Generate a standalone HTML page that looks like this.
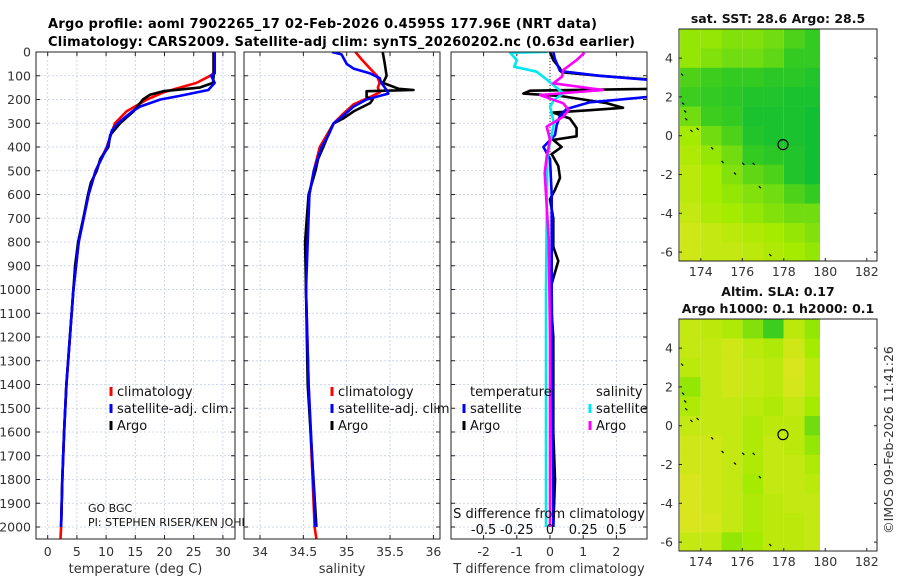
<!DOCTYPE html>
<html><head><meta charset="utf-8"><style>
html,body{margin:0;padding:0;background:#fff;}
svg{display:block;font-family:"DejaVu Sans","Liberation Sans",sans-serif;}
</style></head><body>
<svg id="fig" width="900" height="580" viewBox="0 0 900 580">
<text x="48" y="28" font-size="13" font-weight="bold" textLength="549">Argo profile: aoml 7902265_17 02-Feb-2026 0.4595S 177.96E (NRT data)</text>
<text x="48" y="46" font-size="13" font-weight="bold" textLength="587">Climatology: CARS2009. Satellite-adj clim: synTS_20260202.nc (0.63d earlier)</text>
<g id="layer"></g>
</svg>
<script>
// ---------- data ----------
const depthTicks=[0,100,200,300,400,500,600,700,800,900,1000,1100,1200,1300,1400,1500,1600,1700,1800,1900,2000];
const tempTicks=[0,5,10,15,20,25,30];
const salTicks=[34,34.5,35,35.5,36];
const tdiffTicks=[-2,-1,0,1,2];
const sdiffTicks=[-0.5,-0.25,0,0.25,0.5];
const sdiffTickLabels=["-0.5","-0.25","0","0.25","0.5"];

const tClimDepth=[0,90,100,130,150,170,200,250,300,400,500,600,800,1000,1200,1400,1600,1800,2000,2050];
const tClimVal=[28.4,28.4,27.8,25.5,22.6,19.8,17,13.5,11.5,10.1,8.2,7,5.3,4.4,3.8,3.2,2.8,2.5,2.3,2.2];
const tSatDepth=[0,90,100,130,160,185,200,230,250,300,330,400,500,600,800,1000,1200,1400,1600,1800,2000];
const tSatVal=[28.6,28.6,28,28.6,27.5,22.6,19.3,15.8,14.5,12,11,10.2,8.2,7,5.3,4.4,3.8,3.2,2.8,2.5,2.3];
const tArgoDepth=[0,100,130,150,165,180,200,250,300,350,400,450,500,550,600,700,800,900,1000,1200,1400,1600,1800,2000];
const tArgoVal=[28.4,28.4,28.3,26,19.8,17.5,16.3,14.7,12.4,10.7,10.4,9,8.4,7.4,6.9,6.1,5.2,4.7,4.4,3.8,3.2,2.8,2.5,2.3];

const sClimDepth=[0,30,70,100,130,150,170,190,220,260,300,400,500,600,800,1000,1400,2000,2050];
const sClimVal=[35.1,35.17,35.27,35.35,35.38,35.36,35.38,35.27,35.08,34.96,34.85,34.69,34.62,34.57,34.53,34.53,34.56,34.63,34.65];
const sSatDepth=[0,10,50,70,90,110,130,160,175,200,230,280,300,350,400,500,600,1000,1400,2000];
const sSatVal=[34.83,34.94,35.0,35.08,35.27,35.38,35.4,35.46,35.48,35.23,35.08,34.92,34.85,34.79,34.71,34.62,34.57,34.53,34.56,34.64];
const sArgoDepth=[0,50,100,130,155,160,165,190,200,215,250,280,300,330,400,450,500,600,700,800,1000,1400,2000];
const sArgoVal=[35.415,35.44,35.46,35.42,35.6,35.77,35.23,35.23,35.3,35.27,35.08,34.96,34.85,34.81,34.73,34.67,34.64,34.56,34.54,34.52,34.53,34.55,34.65];

const dTSatDepth=[0,30,80,100,120,185,190,212,240,268,310,350,400,450,600,1000,1500,2000];
const dTSatVal=[0.1,0.15,0.3,1.5,3.2,3.2,2.9,1.2,0.5,0.3,0.2,0.15,-0.2,0,0.05,0.05,0.08,0.1];
const dTArgoDepth=[0,34,69,85,100,118,155,163,175,185,200,215,235,245,255,280,320,355,370,400,430,480,530,580,620,700,820,880,1000,1200,1400,1600,1800,2000];
const dTArgoVal=[0,0.1,0.3,0.35,1.5,3.2,3.2,-0.6,-0.8,0.3,1.0,1.7,2.2,1.2,0.1,0.6,0.8,0.8,0.1,0.35,0.05,0.25,0.3,0.15,0,0.1,0.1,0.25,0,0.1,0.1,0.1,0.15,0.1];
const dSSatDepth=[0,3,34,62,83,118,174,202,230,300,440,1000,2000];
const dSSatVal=[-0.02,-0.3,-0.25,-0.27,-0.1,-0.02,0.1,0.03,0,0.03,-0.02,-0.03,-0.03];
const dSArgoDepth=[3,34,76,104,132,160,181,216,244,272,314,370,440,510,790,1200,2000];
const dSArgoVal=[0.26,0.2,0.1,0.09,0.025,0.4,-0.075,0.1,0.14,0.1,-0.025,0,-0.025,-0.04,-0.01,0,0];

const mapLonTicks=[174,176,178,180,182];
const mapLatTicks=[4,2,0,-2,-4,-6];
const gridLons=[173,174,175,176,177,178,179];
const gridLats=[5.5,4.5,3.5,2.5,1.5,0.5,-0.5,-1.5,-2.5,-3.5,-4.5,-5.5];
const sstGrid=[
[.6,.6,.55,.55,.5,.4,.3],
[.6,.55,.5,.5,.45,.3,.3],
[.4,.35,.3,.3,.25,.25,.2],
[.35,.3,.25,.2,.2,.15,.15],
[.5,.35,.3,.15,.15,.15,.1],
[.65,.5,.4,.2,.15,.15,.1],
[.7,.6,.5,.3,.25,.2,.1],
[.75,.65,.55,.45,.4,.2,.1],
[.75,.65,.6,.55,.5,.4,.3],
[.8,.7,.65,.6,.55,.5,.5],
[.85,.8,.75,.7,.65,.6,.55],
[.85,.8,.8,.75,.7,.65,.6]];
const slaGrid=[
[.8,.75,.7,.55,.35,.75,.6],
[.8,.8,.85,.75,.7,.85,.65],
[.75,.8,.85,.8,.75,.9,.75],
[.6,.8,.85,.8,.75,.88,.75],
[.7,.8,.8,.75,.7,.8,.65],
[.8,.8,.8,.7,.75,.75,.5],
[.85,.85,.8,.7,.8,.75,.6],
[.85,.85,.8,.7,.8,.8,.7],
[.9,.85,.8,.65,.8,.8,.75],
[.9,.85,.8,.7,.75,.8,.8],
[.9,.88,.8,.7,.75,.75,.8],
[.8,.8,.6,.65,.75,.75,.8]];
const floatLon=[177.96];
const floatLat=[-0.4595];
const islandLon=[173.05,173.1,173.2,173.25,173.5,173.8,174.5,175,175.6,176,176.5,176.8,177.3];
const islandLat=[3.2,1.7,1.3,0.9,0.3,0.4,-0.6,-1.3,-1.9,-1.4,-1.4,-2.6,-6.1];

// ---------- helpers ----------
const NS="http://www.w3.org/2000/svg";
const layer=document.getElementById('layer');
function mk(tag,attrs,parent){const e=document.createElementNS(NS,tag);for(const k in attrs)e.setAttribute(k,attrs[k]);(parent||layer).appendChild(e);return e;}
const yTop=52,yBot=539;
const yD=d=>yTop+d*0.2375;

function panel(x0,x1,xmin,xmax,ticks,tickLabels,xlabel,name){
  const sx=v=>x0+(v-xmin)/(xmax-xmin)*(x1-x0);
  const g=mk('g',{});
  
  
  mk('rect',{x:x0,y:yTop,width:x1-x0,height:yBot-yTop,fill:'#fff'},g);
  depthTicks.forEach(d=>{
    mk('line',{x1:x0,x2:x1,y1:yD(d),y2:yD(d),stroke:'#c4cce6','stroke-width':0.8,'stroke-dasharray':'2,2'},g);
    mk('line',{x1:x0,x2:x0+4,y1:yD(d),y2:yD(d),stroke:'#222'},g);
    mk('line',{x1:x1-4,x2:x1,y1:yD(d),y2:yD(d),stroke:'#222'},g);
  });
  ticks.forEach((t,i)=>{
    const x=sx(t);
    mk('line',{x1:x,x2:x,y1:yTop,y2:yBot,stroke:'#c4cce6','stroke-width':0.8,'stroke-dasharray':'2,2'},g);
    mk('line',{x1:x,x2:x,y1:yBot-4,y2:yBot,stroke:'#222'},g);
    mk('line',{x1:x,x2:x,y1:yTop,y2:yTop+4,stroke:'#222'},g);
    const tl=mk('text',{x:x,y:556,'font-size':12.5,'text-anchor':'middle',fill:'#333'},g);
    tl.textContent=tickLabels?tickLabels[i]:String(t);
    
    
  });
  const xl=mk('text',{x:(x0+x1)/2,y:573,'font-size':13,'text-anchor':'middle',fill:'#333'},g);
  xl.textContent=xlabel;
  
  
  return {sx,g,x0,x1};
}
function line(p,depths,vals,color,name,scale){
  const pts=depths.map((d,i)=>p.sx(vals[i]*(scale||1)).toFixed(1)+','+yD(d).toFixed(1)).join(' ');
  const e=mk('polyline',{points:pts,fill:'none',stroke:color,'stroke-width':2.6,'stroke-linejoin':'round','clip-path':'url(#clip-'+p.id+')'},p.g);
  
  
}
function frame(p){mk('rect',{x:p.x0,y:yTop,width:p.x1-p.x0,height:yBot-yTop,fill:'none',stroke:'#222','stroke-width':1},p.g);}
function clip(p,id){p.id=id;const defs=mk('defs',{});const c=mk('clipPath',{id:'clip-'+id},defs);mk('rect',{x:p.x0,y:yTop,width:p.x1-p.x0,height:yBot-yTop},c);}
function legend(p,x,y,color,label){
  const g=mk('g',{},p.g);
  
  
  if(color) mk('line',{x1:x,x2:x,y1:y-9,y2:y,stroke:color,'stroke-width':3},g);
  const t=mk('text',{x:x+6,y:y,'font-size':13,fill:'#111'},g);t.textContent=label;
  return g;
}

// y tick labels
depthTicks.forEach(d=>{
  const t=mk('text',{x:31,y:yD(d)+4.5,'font-size':12.5,'text-anchor':'end',fill:'#333'});
  t.textContent=d;
  
  
});

// Panel 1: temperature
const p1=panel(36,235,(36-47.7)/5.84,(235-47.7)/5.84,tempTicks,null,'temperature (deg C)','temperature-panel');
clip(p1,'p1');
line(p1,tClimDepth,tClimVal,'#f00','temp-climatology-line');
line(p1,tArgoDepth,tArgoVal,'#000','temp-argo-line');
line(p1,tSatDepth,tSatVal,'#00f','temp-satellite-line');
legend(p1,111,396,'#f00','climatology');
legend(p1,111,413,'#00f','satellite-adj. clim.');
legend(p1,111,430,'#000','Argo');
frame(p1);
const pi1=mk('text',{x:88,y:512,'font-size':11,fill:'#111'});pi1.textContent='GO BGC';

const pi2=mk('text',{x:88,y:526,'font-size':11,fill:'#111'});pi2.textContent='PI: STEPHEN RISER/KEN JOHNSON';


// Panel 2: salinity
const p2=panel(244,440,34+(244-260)/86.7,34+(440-260)/86.7,salTicks,null,'salinity','salinity-panel');
clip(p2,'p2');
line(p2,sClimDepth,sClimVal,'#f00','sal-climatology-line');
line(p2,sArgoDepth,sArgoVal,'#000','sal-argo-line');
line(p2,sSatDepth,sSatVal,'#00f','sal-satellite-line');
legend(p2,332,396,'#f00','climatology');
legend(p2,332,413,'#00f','satellite-adj. clim.');
legend(p2,332,430,'#000','Argo');
frame(p2);

// Panel 3: differences
const p3=panel(451,647,(451-550)/33.2,(647-550)/33.2,tdiffTicks,null,'T difference from climatology','difference-panel');
clip(p3,'p3');
mk('line',{x1:p3.sx(0),x2:p3.sx(0),y1:yTop,y2:yD(450),stroke:'#333','stroke-width':1,'stroke-dasharray':'1,2'},p3.g);
line(p3,dTArgoDepth,dTArgoVal,'#000','tdiff-argo-line');
line(p3,dTSatDepth,dTSatVal,'#00f','tdiff-satellite-line');
line(p3,dSSatDepth,dSSatVal,'#00e8f0','sdiff-satellite-line',4);
line(p3,dSArgoDepth,dSArgoVal,'#f0f','sdiff-argo-line',4);
const lt=mk('text',{x:470,y:396,'font-size':13,fill:'#111'},p3.g);lt.textContent='temperature';

const ls=mk('text',{x:596,y:396,'font-size':13,fill:'#111'},p3.g);ls.textContent='salinity';

legend(p3,464,413,'#00f','satellite');
legend(p3,464,430,'#000','Argo');
legend(p3,590,413,'#00e8f0','satellite');
legend(p3,590,430,'#f0f','Argo');
const sl=mk('text',{x:549,y:518,'font-size':13,'text-anchor':'middle',fill:'#111'},p3.g);sl.textContent='S difference from climatology';

sdiffTicks.forEach((t,i)=>{
  const x=p3.sx(t*4);
  const e=mk('text',{x:x,y:534,'font-size':13,'text-anchor':'middle',fill:'#111'},p3.g);e.textContent=sdiffTickLabels[i];
  
});
frame(p3);

// ---------- maps ----------
function cmap(v){
  const st=[[0,[0,185,60]],[0.35,[60,205,30]],[0.65,[165,235,0]],[1,[238,228,40]]];
  for(let i=1;i<st.length;i++){if(v<=st[i][0]){const a=st[i-1],b=st[i],f=(v-a[0])/(b[0]-a[0]);
    return 'rgb('+a[1].map((c,k)=>Math.round(c+(b[1][k]-c)*f)).join(',')+')';}}
  return 'rgb(238,228,40)';
}
function map(top,grid,titleLines,name){
  const x0=679,x1=877,bot=top+232;
  const sx=lon=>x0+(lon-172.95)*20.75;
  const sy=lat=>top+(5.5-lat)*19.4;
  const g=mk('g',{});
  
  
  gridLats.forEach((lat,r)=>gridLons.forEach((lon,c)=>{
    const xa=Math.max(sx(lon),x0), xb=Math.min(sx(lon+1),820);
    const ya=sy(lat), yb=Math.min(sy(lat-1)+0.3,bot);
    const e=mk('rect',{x:xa,y:ya,width:xb-xa,height:yb-ya,fill:cmap(grid[r][c])},g);
    
    
  }));
  islandLon.forEach((lon,i)=>{
    const e=mk('line',{x1:sx(lon),y1:sy(islandLat[i]),x2:sx(lon)+2,y2:sy(islandLat[i])+2,stroke:'#000','stroke-width':1.2},g);
    
    
  });
  const c=mk('circle',{cx:sx(floatLon[0]),cy:sy(floatLat[0]),r:5,fill:'none',stroke:'#000','stroke-width':1.2},g);
  
  
  mk('rect',{x:x0,y:top,width:x1-x0,height:bot-top,fill:'none',stroke:'#222'},g);
  mapLonTicks.forEach(l=>{
    const x=sx(l);
    mk('line',{x1:x,x2:x,y1:bot-3,y2:bot,stroke:'#222'},g);
    const t=mk('text',{x:x,y:bot+15,'font-size':12.5,'text-anchor':'middle',fill:'#333'},g);t.textContent=l;
    
  });
  mapLatTicks.forEach(l=>{
    const y=sy(l);
    mk('line',{x1:x0,x2:x0+3,y1:y,y2:y,stroke:'#222'},g);
    mk('line',{x1:x1-3,x2:x1,y1:y,y2:y,stroke:'#222'},g);
    const t=mk('text',{x:673,y:y+4.5,'font-size':12.5,'text-anchor':'end',fill:'#333'},g);t.textContent=l;
    
  });
  titleLines.forEach((s,i)=>{
    const t=mk('text',{x:778,y:top-6-(titleLines.length-1-i)*17,'font-size':12.5,'font-weight':'bold','text-anchor':'middle',fill:'#111'},g);t.textContent=s;
    
  });
}
map(29,sstGrid,['sat. SST: 28.6 Argo: 28.5'],'sst-map');
map(319,slaGrid,['Altim. SLA: 0.17','Argo h1000: 0.1 h2000: 0.1'],'sla-map');

const cp=mk('text',{x:0,y:0,'font-size':12.5,'text-anchor':'middle',fill:'#333',transform:'translate(893,440) rotate(-90)'});
cp.textContent='©IMOS 09-Feb-2026 11:41:26';


</script>
</body></html>
